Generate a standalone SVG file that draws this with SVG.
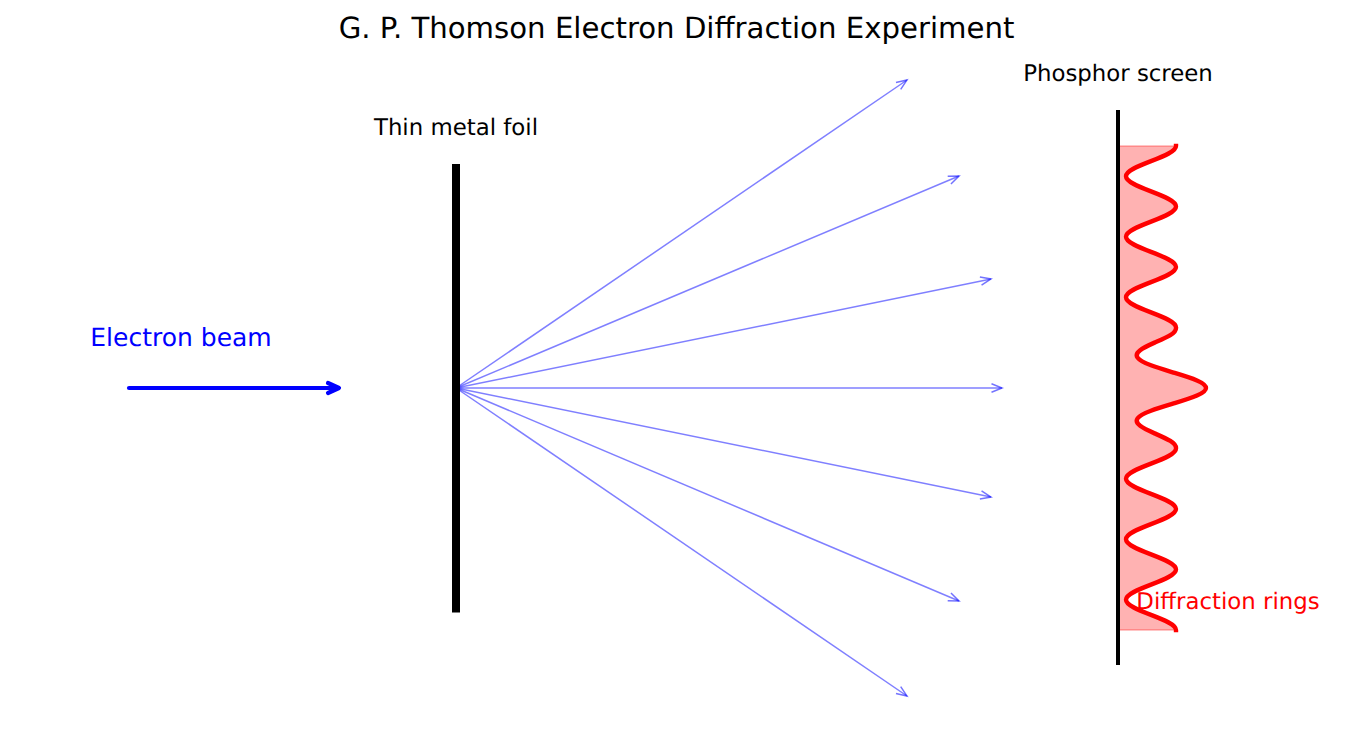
<svg xmlns="http://www.w3.org/2000/svg" width="1353" height="734" viewBox="0 0 1353 734">
<style>
text{font-family:"DejaVu Sans",sans-serif;text-anchor:middle;text-rendering:geometricPrecision}
.lbl{font-size:22.85px}
.ray{fill:none;stroke:#00f;stroke-opacity:.5;stroke-width:1.5;marker-end:url(#open)}
</style>
<defs>
<marker id="open" markerUnits="userSpaceOnUse" markerWidth="16" markerHeight="14" refX="11" refY="7" orient="auto"><path d="M0.5 2.8L11 7L0.5 11.2" fill="none" stroke="#00f" stroke-opacity=".55" stroke-width="1.5"/></marker>
</defs>
<rect width="1353" height="734" fill="#fff"/>
<text x="676.5" y="37.5" font-size="29.2">G. P. Thomson Electron Diffraction Experiment</text>
<g id="connectors">
<path d="M129 388H338" fill="none" stroke="#00f" stroke-width="4.2" stroke-linecap="round"/>
<path d="M328 383L339 388L328 393" fill="none" stroke="#00f" stroke-width="4.2" stroke-linecap="round" stroke-linejoin="round"/>
<line class="ray" x1="456" y1="388" x2="907" y2="80"/>
<line class="ray" x1="456" y1="388" x2="959" y2="176"/>
<line class="ray" x1="456" y1="388" x2="991" y2="279"/>
<line class="ray" x1="456" y1="388" x2="1002" y2="388"/>
<line class="ray" x1="456" y1="388" x2="991" y2="497"/>
<line class="ray" x1="456" y1="388" x2="959" y2="601"/>
<line class="ray" x1="456" y1="388" x2="907" y2="696"/>
</g>
<g id="electron-beam"><text x="181" y="345.5" font-size="25" fill="#00f">Electron beam</text></g>
<g id="foil"><rect x="452" y="164" width="8" height="448.5"/><text class="lbl" x="456" y="135">Thin metal foil</text></g>
<g id="screen">
<path d="M1118,146H1176c0,5.47 -12.19,10.19 -25,15.125c-12.81,4.93 -25,9.65 -25,15.125c0,5.47 12.19,10.19 25,15.125c12.81,4.93 25,9.65 25,15.125c0,5.47 -12.19,10.19 -25,15.125c-12.81,4.93 -25,9.65 -25,15.125c0,5.47 12.19,10.19 25,15.125c12.81,4.93 25,9.65 25,15.125c0,5.47 -12.19,10.19 -25,15.125c-12.81,4.93 -25,9.65 -25,15.125c0,5.47 12.19,10.19 25,15.125c12.81,4.93 25,9.65 25,15.125C1176.2,330.02 1174.51,332.54 1170.34,335.06C1166.17,337.58 1160.28,340.1 1154.58,342.63C1148.88,345.15 1143.45,347.67 1140.17,350.19C1136.89,352.71 1135.82,355.23 1137.66,357.75C1139.5,360.27 1144.24,362.79 1150.95,365.31C1157.66,367.83 1166.28,370.35 1174.69,372.88C1183.1,375.4 1191.22,377.92 1196.96,380.44C1202.7,382.96 1206,385.48 1206,388C1206,390.52 1202.7,393.04 1196.96,395.56C1191.22,398.08 1183.1,400.6 1174.69,403.13C1166.28,405.65 1157.66,408.17 1150.95,410.69C1144.24,413.21 1139.5,415.73 1137.66,418.25C1135.82,420.77 1136.89,423.29 1140.17,425.81C1143.45,428.33 1148.88,430.85 1154.58,433.38C1160.28,435.9 1166.17,438.42 1170.34,440.94C1174.51,443.46 1176.2,445.98 1176,448.5c0,5.47 -12.19,10.19 -25,15.125c-12.81,4.93 -25,9.65 -25,15.125c0,5.47 12.19,10.19 25,15.125c12.81,4.93 25,9.65 25,15.125c0,5.47 -12.19,10.19 -25,15.125c-12.81,4.93 -25,9.65 -25,15.125c0,5.47 12.19,10.19 25,15.125c12.81,4.93 25,9.65 25,15.125c0,5.47 -12.19,10.19 -25,15.125c-12.81,4.93 -25,9.65 -25,15.125c0,5.47 12.19,10.19 25,15.125c12.81,4.93 25,9.65 25,15.125H1118Z" fill="#f00" fill-opacity=".3" stroke="#f00" stroke-opacity=".3" stroke-width="1.4"/>
<rect x="1116" y="110" width="4" height="555"/>
<path d="M1176,146c0,5.47 -12.19,10.19 -25,15.125c-12.81,4.93 -25,9.65 -25,15.125c0,5.47 12.19,10.19 25,15.125c12.81,4.93 25,9.65 25,15.125c0,5.47 -12.19,10.19 -25,15.125c-12.81,4.93 -25,9.65 -25,15.125c0,5.47 12.19,10.19 25,15.125c12.81,4.93 25,9.65 25,15.125c0,5.47 -12.19,10.19 -25,15.125c-12.81,4.93 -25,9.65 -25,15.125c0,5.47 12.19,10.19 25,15.125c12.81,4.93 25,9.65 25,15.125C1176.2,330.02 1174.51,332.54 1170.34,335.06C1166.17,337.58 1160.28,340.1 1154.58,342.63C1148.88,345.15 1143.45,347.67 1140.17,350.19C1136.89,352.71 1135.82,355.23 1137.66,357.75C1139.5,360.27 1144.24,362.79 1150.95,365.31C1157.66,367.83 1166.28,370.35 1174.69,372.88C1183.1,375.4 1191.22,377.92 1196.96,380.44C1202.7,382.96 1206,385.48 1206,388C1206,390.52 1202.7,393.04 1196.96,395.56C1191.22,398.08 1183.1,400.6 1174.69,403.13C1166.28,405.65 1157.66,408.17 1150.95,410.69C1144.24,413.21 1139.5,415.73 1137.66,418.25C1135.82,420.77 1136.89,423.29 1140.17,425.81C1143.45,428.33 1148.88,430.85 1154.58,433.38C1160.28,435.9 1166.17,438.42 1170.34,440.94C1174.51,443.46 1176.2,445.98 1176,448.5c0,5.47 -12.19,10.19 -25,15.125c-12.81,4.93 -25,9.65 -25,15.125c0,5.47 12.19,10.19 25,15.125c12.81,4.93 25,9.65 25,15.125c0,5.47 -12.19,10.19 -25,15.125c-12.81,4.93 -25,9.65 -25,15.125c0,5.47 12.19,10.19 25,15.125c12.81,4.93 25,9.65 25,15.125c0,5.47 -12.19,10.19 -25,15.125c-12.81,4.93 -25,9.65 -25,15.125c0,5.47 12.19,10.19 25,15.125c12.81,4.93 25,9.65 25,15.125" fill="none" stroke="#f00" stroke-width="4.4" stroke-linecap="square"/>
<text class="lbl" x="1118" y="80.5">Phosphor screen</text>
</g>
<g id="rings"><text class="lbl" x="1228" y="609" fill="#f00">Diffraction rings</text></g>
</svg>
